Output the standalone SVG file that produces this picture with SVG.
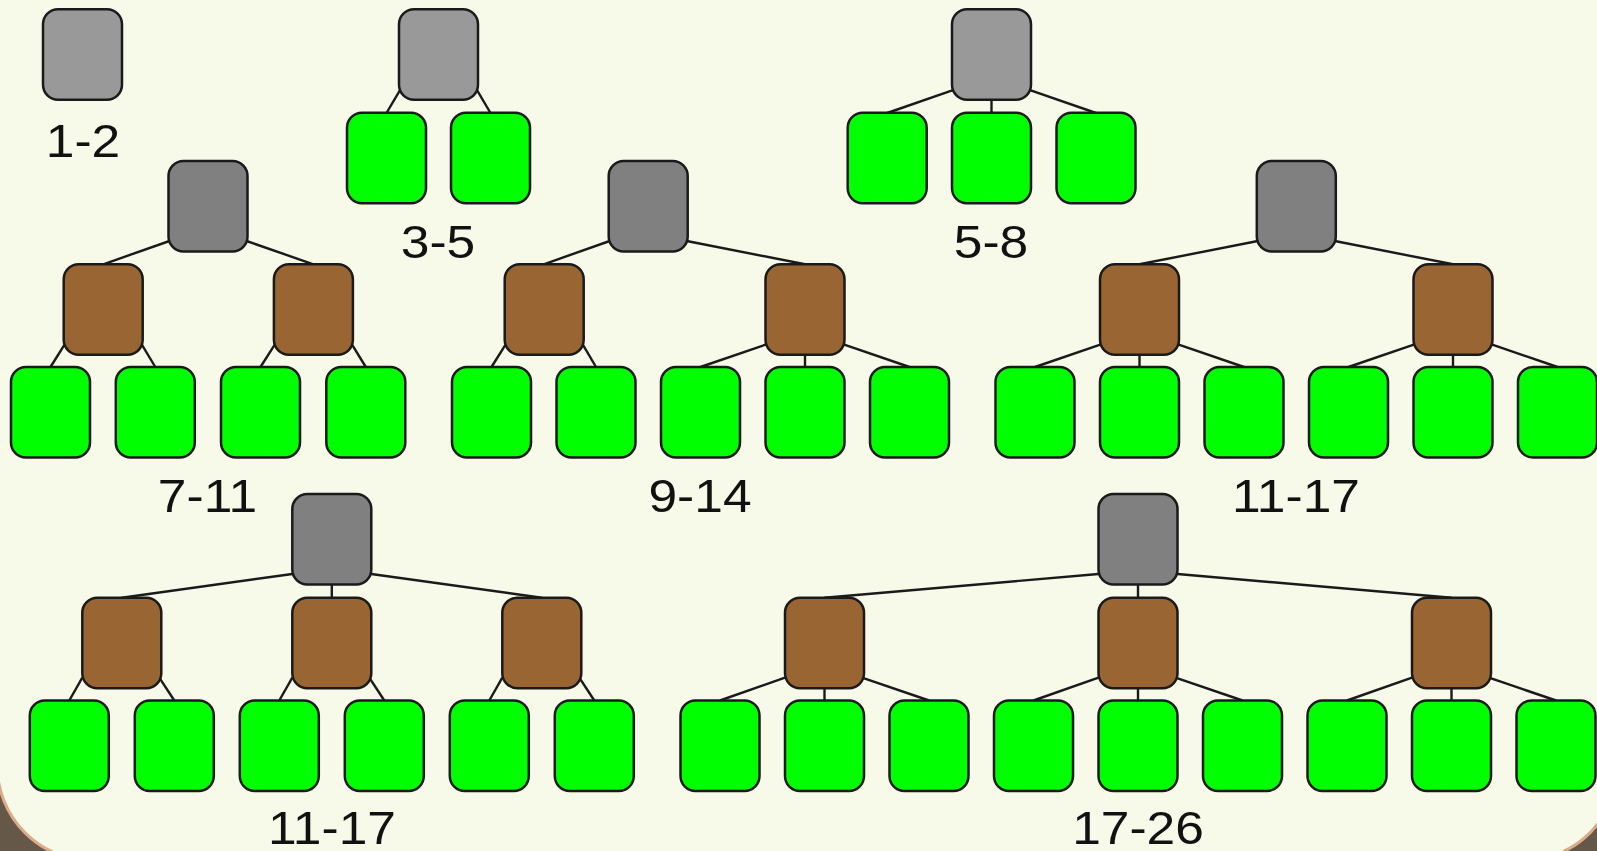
<svg xmlns="http://www.w3.org/2000/svg" width="1597" height="851" viewBox="0 0 1597 851">
  <style>
    .panel { fill: #f8fae9; stroke: #dcab87; stroke-width: 3; }
    .node { stroke: #1a1a1a; stroke-width: 2.5; }
    .lt { fill: #999999; }
    .dk { fill: #808080; }
    .br { fill: #996633; }
    .gr { fill: #00ff00; }
    #connectors line { stroke: #1a1a1a; stroke-width: 2.4; }
    .lbl { font-family: "Liberation Sans", Arial, sans-serif; font-size: 46px; fill: #111111; text-anchor: middle; }
  </style>
  <defs>
    <rect id="box" width="79" height="90.5" rx="15" ry="15"/>
  </defs>

  <!-- backdrop with rounded panel -->
  <rect x="0" y="0" width="1597" height="851" fill="#665849"/>
  <path class="panel" d="M -10,-10 H 1618 V 765 A 96 96 0 0 1 1522,861 H 93 A 96 96 0 0 1 -3,765 V -10 Z"/>

  <g id="connectors">
    <!-- 3-5 -->
    <line x1="400" y1="90.2" x2="386.5" y2="113"/>
    <line x1="477" y1="90.2" x2="490.5" y2="113"/>
    <!-- 5-8 -->
    <line x1="953" y1="90.2" x2="887.2" y2="113"/>
    <line x1="991.5" y1="101" x2="991.5" y2="113"/>
    <line x1="1030" y1="90.2" x2="1096" y2="113"/>
    <!-- 7-11 -->
    <line x1="169.5" y1="241" x2="103.2" y2="264.3"/>
    <line x1="246.5" y1="241" x2="313.4" y2="264.3"/>
    <line x1="64.7" y1="344.3" x2="50.5" y2="367"/>
    <line x1="141.7" y1="344.3" x2="155.3" y2="367"/>
    <line x1="274.9" y1="344.3" x2="260.5" y2="367"/>
    <line x1="351.9" y1="344.3" x2="365.8" y2="367"/>
    <!-- 9-14 -->
    <line x1="609.7" y1="241" x2="543.7" y2="264.3"/>
    <line x1="686.7" y1="241" x2="805" y2="264.3"/>
    <line x1="505.7" y1="344.3" x2="491.5" y2="367"/>
    <line x1="582.7" y1="344.3" x2="596" y2="367"/>
    <line x1="766.5" y1="344.3" x2="700.5" y2="367"/>
    <line x1="805" y1="355" x2="805" y2="367"/>
    <line x1="843.5" y1="344.3" x2="909.5" y2="367"/>
    <!-- 11-17 (upper) -->
    <line x1="1257.8" y1="241" x2="1139.5" y2="264.3"/>
    <line x1="1334.8" y1="241" x2="1453" y2="264.3"/>
    <line x1="1101" y1="344.3" x2="1035" y2="367"/>
    <line x1="1139.5" y1="355" x2="1139.5" y2="367"/>
    <line x1="1178" y1="344.3" x2="1244" y2="367"/>
    <line x1="1414.5" y1="344.3" x2="1348.5" y2="367"/>
    <line x1="1453" y1="355" x2="1453" y2="367"/>
    <line x1="1491.5" y1="344.3" x2="1557.5" y2="367"/>
    <!-- 11-17 (lower) -->
    <line x1="292.3" y1="574" x2="121.8" y2="597.7"/>
    <line x1="331.8" y1="585" x2="331.8" y2="597.7"/>
    <line x1="371.3" y1="574" x2="541.8" y2="597.7"/>
    <line x1="82.3" y1="677.7" x2="69.3" y2="700.5"/>
    <line x1="159.3" y1="677.7" x2="174.3" y2="700.5"/>
    <line x1="292.3" y1="677.7" x2="279.3" y2="700.5"/>
    <line x1="369.3" y1="677.7" x2="384.3" y2="700.5"/>
    <line x1="502.3" y1="677.7" x2="489.3" y2="700.5"/>
    <line x1="579.3" y1="677.7" x2="594.3" y2="700.5"/>
    <!-- 17-26 -->
    <line x1="1098.5" y1="574" x2="824.5" y2="597.7"/>
    <line x1="1138" y1="585" x2="1138" y2="597.7"/>
    <line x1="1177.5" y1="574" x2="1451.5" y2="597.7"/>
    <line x1="785" y1="677.7" x2="720" y2="700.5"/>
    <line x1="824.5" y1="688" x2="824.5" y2="700.5"/>
    <line x1="862" y1="677.7" x2="929" y2="700.5"/>
    <line x1="1098.5" y1="677.7" x2="1033.5" y2="700.5"/>
    <line x1="1138" y1="688" x2="1138" y2="700.5"/>
    <line x1="1175.5" y1="677.7" x2="1242.5" y2="700.5"/>
    <line x1="1412" y1="677.7" x2="1347" y2="700.5"/>
    <line x1="1451.5" y1="688" x2="1451.5" y2="700.5"/>
    <line x1="1489" y1="677.7" x2="1556" y2="700.5"/>
  </g>

  <!-- tree 1-2 -->
  <g id="t12-root" class="node"><use href="#box" x="43" y="9.2" class="lt"/></g>

  <!-- tree 3-5 -->
  <g id="t35-root" class="node"><use href="#box" x="399" y="9.2" class="lt"/></g>
  <g id="t35-leaf1" class="node"><use href="#box" x="347" y="112.8" class="gr"/></g>
  <g id="t35-leaf2" class="node"><use href="#box" x="451" y="112.8" class="gr"/></g>

  <!-- tree 5-8 -->
  <g id="t58-root" class="node"><use href="#box" x="952" y="9.2" class="lt"/></g>
  <g id="t58-leaf1" class="node"><use href="#box" x="847.7" y="112.8" class="gr"/></g>
  <g id="t58-leaf2" class="node"><use href="#box" x="952" y="112.8" class="gr"/></g>
  <g id="t58-leaf3" class="node"><use href="#box" x="1056.5" y="112.8" class="gr"/></g>

  <!-- tree 7-11 -->
  <g id="t711-root" class="node"><use href="#box" x="168.5" y="161" class="dk"/></g>
  <g id="t711-mid1" class="node"><use href="#box" x="63.7" y="264.3" class="br"/></g>
  <g id="t711-mid2" class="node"><use href="#box" x="273.9" y="264.3" class="br"/></g>
  <g id="t711-leaf1" class="node"><use href="#box" x="11" y="367" class="gr"/></g>
  <g id="t711-leaf2" class="node"><use href="#box" x="115.8" y="367" class="gr"/></g>
  <g id="t711-leaf3" class="node"><use href="#box" x="221" y="367" class="gr"/></g>
  <g id="t711-leaf4" class="node"><use href="#box" x="326.3" y="367" class="gr"/></g>

  <!-- tree 9-14 -->
  <g id="t914-root" class="node"><use href="#box" x="608.7" y="161" class="dk"/></g>
  <g id="t914-mid1" class="node"><use href="#box" x="504.7" y="264.3" class="br"/></g>
  <g id="t914-mid2" class="node"><use href="#box" x="765.5" y="264.3" class="br"/></g>
  <g id="t914-leaf1" class="node"><use href="#box" x="452" y="367" class="gr"/></g>
  <g id="t914-leaf2" class="node"><use href="#box" x="556.5" y="367" class="gr"/></g>
  <g id="t914-leaf3" class="node"><use href="#box" x="661" y="367" class="gr"/></g>
  <g id="t914-leaf4" class="node"><use href="#box" x="765.5" y="367" class="gr"/></g>
  <g id="t914-leaf5" class="node"><use href="#box" x="870" y="367" class="gr"/></g>

  <!-- tree 11-17 (upper) -->
  <g id="t1117a-root" class="node"><use href="#box" x="1256.8" y="161" class="dk"/></g>
  <g id="t1117a-mid1" class="node"><use href="#box" x="1100" y="264.3" class="br"/></g>
  <g id="t1117a-mid2" class="node"><use href="#box" x="1413.5" y="264.3" class="br"/></g>
  <g id="t1117a-leaf1" class="node"><use href="#box" x="995.5" y="367" class="gr"/></g>
  <g id="t1117a-leaf2" class="node"><use href="#box" x="1100" y="367" class="gr"/></g>
  <g id="t1117a-leaf3" class="node"><use href="#box" x="1204.5" y="367" class="gr"/></g>
  <g id="t1117a-leaf4" class="node"><use href="#box" x="1309" y="367" class="gr"/></g>
  <g id="t1117a-leaf5" class="node"><use href="#box" x="1413.5" y="367" class="gr"/></g>
  <g id="t1117a-leaf6" class="node"><use href="#box" x="1518" y="367" class="gr"/></g>

  <!-- tree 11-17 (lower) -->
  <g id="t1117b-root" class="node"><use href="#box" x="292.3" y="494" class="dk"/></g>
  <g id="t1117b-mid1" class="node"><use href="#box" x="82.3" y="597.7" class="br"/></g>
  <g id="t1117b-mid2" class="node"><use href="#box" x="292.3" y="597.7" class="br"/></g>
  <g id="t1117b-mid3" class="node"><use href="#box" x="502.3" y="597.7" class="br"/></g>
  <g id="t1117b-leaf1" class="node"><use href="#box" x="29.8" y="700.5" class="gr"/></g>
  <g id="t1117b-leaf2" class="node"><use href="#box" x="134.8" y="700.5" class="gr"/></g>
  <g id="t1117b-leaf3" class="node"><use href="#box" x="239.8" y="700.5" class="gr"/></g>
  <g id="t1117b-leaf4" class="node"><use href="#box" x="344.8" y="700.5" class="gr"/></g>
  <g id="t1117b-leaf5" class="node"><use href="#box" x="449.8" y="700.5" class="gr"/></g>
  <g id="t1117b-leaf6" class="node"><use href="#box" x="554.8" y="700.5" class="gr"/></g>

  <!-- tree 17-26 -->
  <g id="t1726-root" class="node"><use href="#box" x="1098.5" y="494" class="dk"/></g>
  <g id="t1726-mid1" class="node"><use href="#box" x="785" y="597.7" class="br"/></g>
  <g id="t1726-mid2" class="node"><use href="#box" x="1098.5" y="597.7" class="br"/></g>
  <g id="t1726-mid3" class="node"><use href="#box" x="1412" y="597.7" class="br"/></g>
  <g id="t1726-leaf1" class="node"><use href="#box" x="680.5" y="700.5" class="gr"/></g>
  <g id="t1726-leaf2" class="node"><use href="#box" x="785" y="700.5" class="gr"/></g>
  <g id="t1726-leaf3" class="node"><use href="#box" x="889.5" y="700.5" class="gr"/></g>
  <g id="t1726-leaf4" class="node"><use href="#box" x="994" y="700.5" class="gr"/></g>
  <g id="t1726-leaf5" class="node"><use href="#box" x="1098.5" y="700.5" class="gr"/></g>
  <g id="t1726-leaf6" class="node"><use href="#box" x="1203" y="700.5" class="gr"/></g>
  <g id="t1726-leaf7" class="node"><use href="#box" x="1307.5" y="700.5" class="gr"/></g>
  <g id="t1726-leaf8" class="node"><use href="#box" x="1412" y="700.5" class="gr"/></g>
  <g id="t1726-leaf9" class="node"><use href="#box" x="1516.5" y="700.5" class="gr"/></g>

  <!-- captions -->
  <g id="labels">
    <text class="lbl" transform="translate(83,156.5) scale(1.12,1)">1-2</text>
    <text class="lbl" transform="translate(438,257.5) scale(1.12,1)">3-5</text>
    <text class="lbl" transform="translate(991,257.5) scale(1.12,1)">5-8</text>
    <text class="lbl" transform="translate(207.5,512) scale(1.12,1)">7-11</text>
    <text class="lbl" transform="translate(700,512) scale(1.12,1)">9-14</text>
    <text class="lbl" transform="translate(1296,512) scale(1.12,1)">11-17</text>
    <text class="lbl" transform="translate(332,844) scale(1.12,1)">11-17</text>
    <text class="lbl" transform="translate(1138,844) scale(1.12,1)">17-26</text>
  </g>
</svg>
